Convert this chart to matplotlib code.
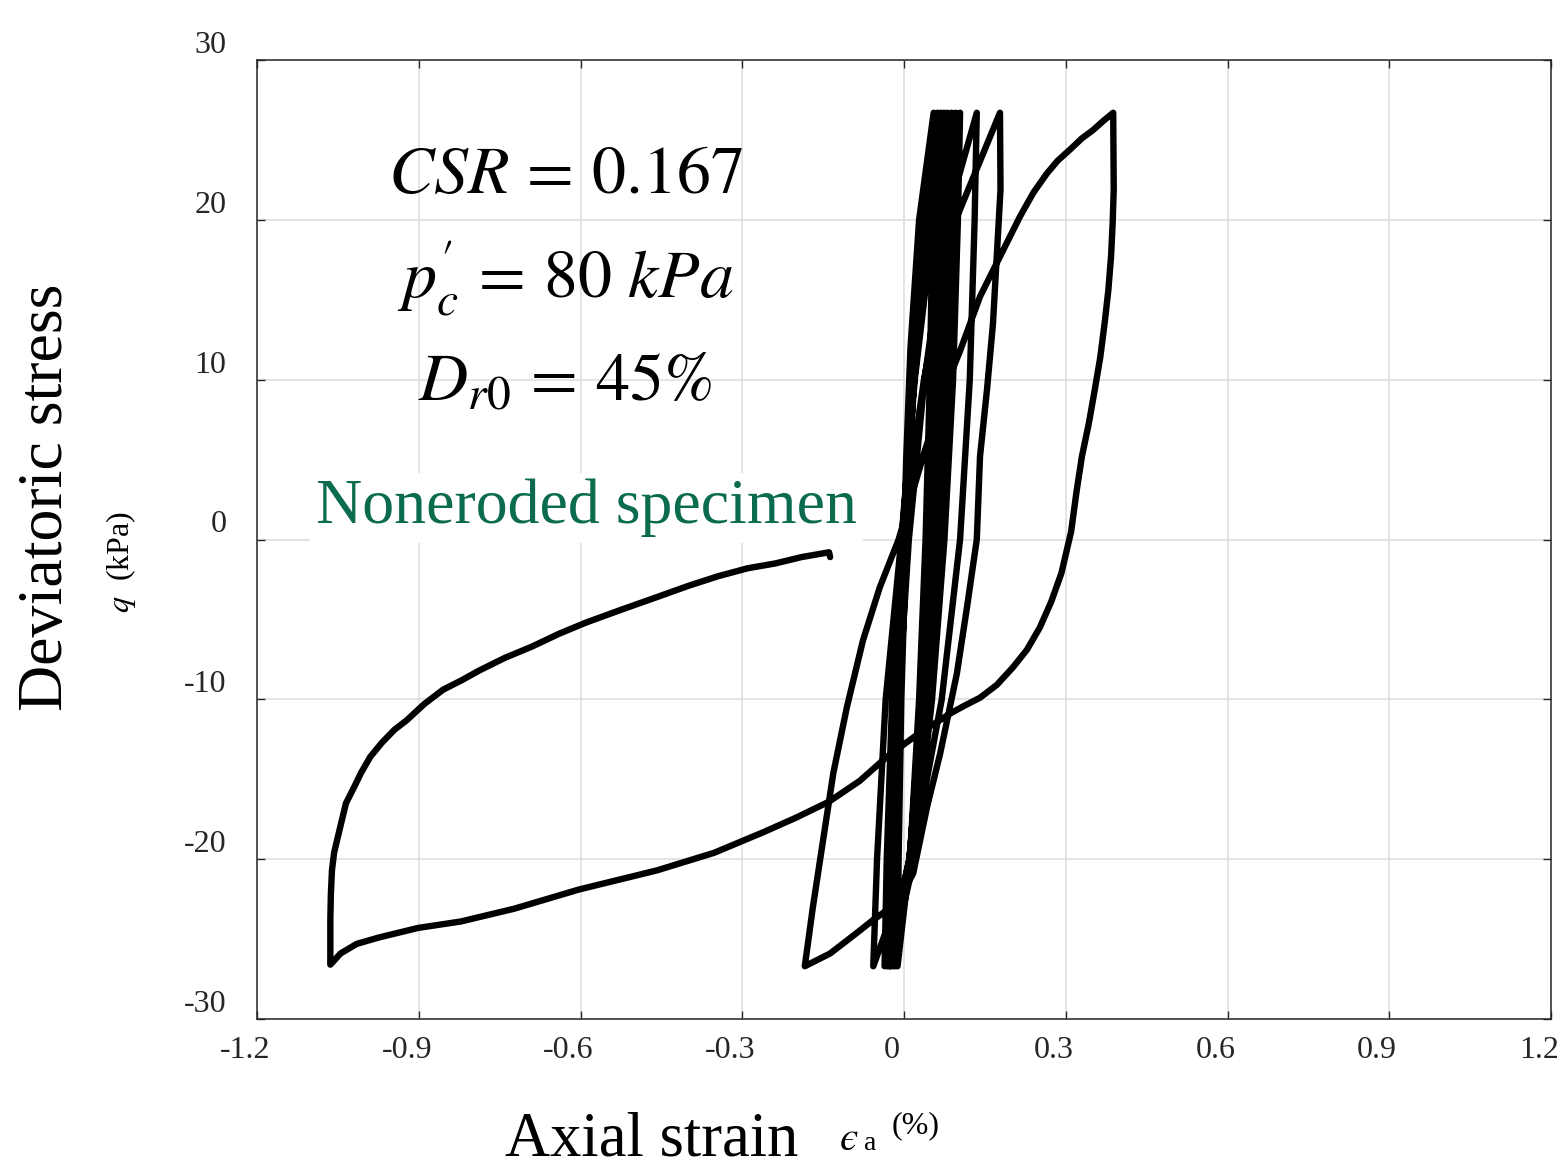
import matplotlib
matplotlib.use("Agg")
import matplotlib.pyplot as plt
import matplotlib.transforms as mtransforms

W, H = 1557, 1168

# q levels shared by the narrow cyclic loops (kPa)
q_rise = [-26.7, -20, -10, 0, 10, 20, 26.7]
q_fall = [26.7, 20, 10, 0, -10, -20, -26.7]

# first loading from the origin
start_x = [0.000, 0.004, 0.012, 0.028, 0.055]
start_q = [0.0, 5.0, 12.0, 20.0, 26.7]

# narrow loops, strain (%) read at the q levels above, in test order
cycle_x = [
    ("fall", [0.055, 0.053, 0.048, 0.040, 0.028, 0.011, -0.012]),
    ("rise", [-0.012, -0.010, -0.005, 0.004, 0.018, 0.036, 0.062]),
    ("fall", [0.062, 0.060, 0.054, 0.045, 0.031, 0.011, -0.016]),
    ("rise", [-0.016, -0.013, -0.008, 0.002, 0.018, 0.039, 0.068]),
    ("fall", [0.068, 0.065, 0.059, 0.049, 0.033, 0.011, -0.020]),
    ("rise", [-0.020, -0.017, -0.011, 0.001, 0.018, 0.041, 0.074]),
    ("fall", [0.074, 0.071, 0.064, 0.052, 0.035, 0.010, -0.024]),
    ("rise", [-0.024, -0.021, -0.014, -0.001, 0.018, 0.044, 0.080]),
    ("fall", [0.080, 0.077, 0.069, 0.056, 0.037, 0.010, -0.028]),
    ("rise", [-0.028, -0.025, -0.016, -0.002, 0.018, 0.047, 0.088]),
    ("fall", [0.088, 0.084, 0.076, 0.062, 0.040, 0.010, -0.032]),
    ("rise", [-0.032, -0.028, -0.019, -0.004, 0.019, 0.051, 0.096]),
    ("fall", [0.096, 0.092, 0.083, 0.067, 0.043, 0.010, -0.036]),
    ("rise", [-0.036, -0.032, -0.022, -0.005, 0.020, 0.055, 0.104]),
    ("fall", [0.104, 0.100, 0.091, 0.075, 0.052, 0.019, -0.026]),
    ("rise", [-0.026, -0.021, -0.010, 0.009, 0.038, 0.079, 0.135]),
    ("fall", [0.135, 0.131, 0.122, 0.104, 0.070, 0.015, -0.057]),
    ("rise", [-0.057, -0.050, -0.034, -0.005, 0.037, 0.096, 0.178]),
]

# last cycles, read point by point
fall1_x = [0.178, 0.179, 0.172, 0.165, 0.154, 0.141, 0.135, 0.117, 0.098, 0.067,
           0.043, 0.017, -0.015, -0.057, -0.087, -0.137, -0.184]
fall1_q = [26.7, 21.9, 17.7, 13.5, 9.4, 5.2, 0.0, -4.2, -8.4, -13.4,
           -16.7, -20.9, -22.8, -23.8, -24.6, -25.9, -26.7]

rise1_x = [-0.184, -0.169, -0.150, -0.131, -0.106, -0.076, -0.045, -0.010, 0.039,
           0.080, 0.104, 0.141, 0.178, 0.215, 0.240, 0.265, 0.285, 0.308, 0.330,
           0.350, 0.370, 0.388]
rise1_q = [-26.7, -23.0, -18.8, -14.6, -10.5, -6.3, -3.0, 0.0, 5.6,
           9.8, 11.8, 15.2, 17.7, 20.2, 21.7, 22.9, 23.7, 24.4, 25.1,
           25.6, 26.2, 26.7]

fall2_x = [0.388, 0.389, 0.387, 0.384, 0.379, 0.372, 0.364, 0.354, 0.343, 0.330,
           0.320, 0.310, 0.292, 0.273, 0.252, 0.228, 0.202, 0.172, 0.141, 0.112,
           0.085, 0.025, -0.032, -0.082, -0.139, -0.200, -0.260, -0.352, -0.458,
           -0.603, -0.723, -0.822, -0.901, -0.974, -1.015, -1.045, -1.064]
fall2_q = [26.7, 21.9, 19.8, 17.7, 15.6, 13.5, 11.4, 9.4, 7.3, 5.2,
           3.0, 0.5, -2.1, -3.9, -5.5, -6.9, -8.0, -9.1, -9.9, -10.4,
           -10.9, -12.2, -13.6, -15.1, -16.4, -17.4, -18.3, -19.6, -20.7,
           -21.9, -23.1, -23.9, -24.3, -24.9, -25.3, -25.9, -26.6]

rise2_x = [-1.064, -1.064, -1.063, -1.061, -1.057, -1.050, -1.035, -1.020, -1.007,
           -0.990, -0.968, -0.945, -0.922, -0.890, -0.855, -0.820, -0.788, -0.740,
           -0.690, -0.640, -0.590, -0.525, -0.458, -0.400, -0.345, -0.290, -0.239,
           -0.190, -0.139, -0.137]
rise2_q = [-26.6, -23.8, -22.2, -20.7, -19.6, -18.6, -16.5, -15.5, -14.6,
           -13.6, -12.7, -11.9, -11.3, -10.3, -9.4, -8.8, -8.2, -7.4,
           -6.7, -5.9, -5.2, -4.4, -3.6, -2.9, -2.3, -1.8, -1.5,
           -1.1, -0.8, -1.1]

xticks = [-1.2, -0.9, -0.6, -0.3, 0, 0.3, 0.6, 0.9, 1.2]
xtick_labels = ["-1.2", "-0.9", "-0.6", "-0.3", "0", "0.3", "0.6", "0.9", "1.2"]
yticks = [-30, -20, -10, 0, 10, 20, 30]
ytick_labels = ["-30", "-20", "-10", "0", "10", "20", "30"]

# assemble the strain path
xs, qs = list(start_x), list(start_q)
for kind, vals in cycle_x:
    xs += vals[1:]
    qs += (q_rise if kind == "rise" else q_fall)[1:]
for bx, bq in [(fall1_x, fall1_q), (rise1_x, rise1_q),
               (fall2_x, fall2_q), (rise2_x, rise2_q)]:
    xs += bx[1:]
    qs += bq[1:]

plt.rcParams["font.family"] = ["Liberation Serif", "DejaVu Serif"]
plt.rcParams["mathtext.fontset"] = "stix"

fig = plt.figure(figsize=(W / 100, H / 100), dpi=100)
ax = fig.add_axes([257 / W, 1 - 1019 / H, (1551 - 257) / W, (1019 - 60) / H])


def fx(px):
    return px / W


def fy(py):
    return 1 - py / H


ax.plot(xs, qs, color="black", lw=4.6, solid_joinstyle="round",
        solid_capstyle="round", zorder=3)

ax.set_xlim(-1.2, 1.2)
ax.set_ylim(-30, 30)
ax.set_xticks(xticks)
ax.set_xticklabels(xtick_labels)
ax.set_yticks(yticks)
ax.set_yticklabels(ytick_labels)
ax.grid(True, color="#dcdcdc", lw=1.1, zorder=0)
ax.set_axisbelow(True)
for sp in ax.spines.values():
    sp.set_color("#262626")
    sp.set_linewidth(1.1)
ax.tick_params(direction="in", length=6, width=1.0, color="#262626",
               top=True, right=True, labelsize=23, labelcolor="#262626")
ax.tick_params(axis="x", pad=12)
ax.tick_params(axis="y", pad=22)
shift_left = mtransforms.ScaledTranslation(-12 / 100, 0, fig.dpi_scale_trans)
for lab in ax.get_xticklabels():
    lab.set_transform(lab.get_transform() + shift_left)
for lab in ax.get_yticklabels():
    lab.set_verticalalignment("bottom")

# annotations
eq_kw = dict(fontsize=49, ha="center", va="baseline", color="black")
fig.text(fx(565), fy(193), r"$CSR\,=\,0.167$", **eq_kw)
fig.text(fx(565), fy(298), r"$p_c'\,=\,80\ kPa$", **eq_kw)
fig.text(fx(565), fy(401), r"$D_{r\mathrm{0}}\,=\,45\%$", **eq_kw)

fig.text(fx(316), fy(523), "Noneroded specimen", fontsize=46, color="#0b6b4f",
         ha="left", va="baseline",
         bbox=dict(facecolor="white", edgecolor="none", pad=4))

# axis labels
fig.text(fx(47), fy(497), "Deviatoric stress", fontsize=46, rotation=90,
         ha="center", va="center")
fig.text(fx(121), fy(562), r"$q$  (kPa)", fontsize=23, rotation=90,
         ha="center", va="center")
fig.text(fx(505), fy(1156), "Axial strain", fontsize=45, ha="left",
         va="baseline")
fig.text(fx(840), fy(1150), "\u03f5", fontsize=30, ha="left", va="baseline",
         family=["STIXGeneral", "DejaVu Serif"], style="italic")
fig.text(fx(864), fy(1150), "a", fontsize=20, ha="left", va="baseline")
fig.text(fx(892), fy(1133), "(%)", fontsize=23, ha="left", va="baseline")

fig.savefig("out.png", dpi=100)
